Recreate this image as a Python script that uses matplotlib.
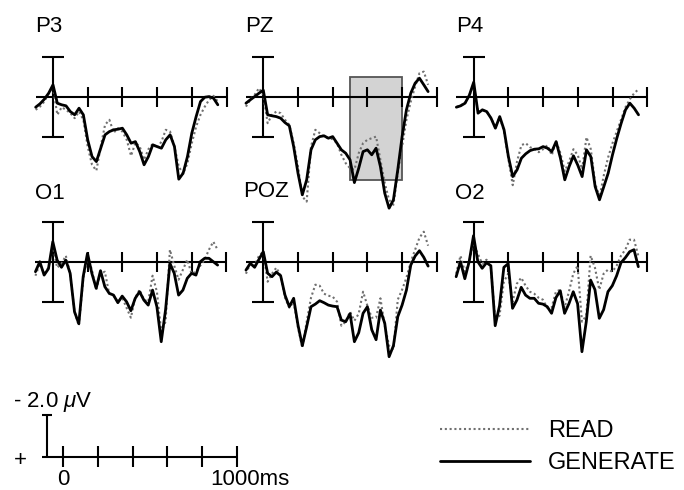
import matplotlib
matplotlib.use("Agg")
import matplotlib.pyplot as plt
from matplotlib.patches import Rectangle
from matplotlib.lines import Line2D

plt.rcParams['font.family'] = ['Liberation Sans', 'DejaVu Sans']
plt.rcParams['mathtext.fontset'] = 'custom'
plt.rcParams['mathtext.rm'] = 'Liberation Sans'
plt.rcParams['mathtext.it'] = 'Liberation Sans:italic'

# --- data: grand averages (uV, negative up), sampled every 25 ms ---
times = list(range(-100, 951, 25))

p3_read = [0.63, 0.47, 0.22, -0.2, -0.5, 0.88, 0.5, 0.63, 0.8, 1.05, 0.72, 1.13, 2.47,
           3.38, 3.67, 2.47, 1.38, 1.13, 1.77, 1.55, 1.72, 2.13, 2.93, 2.27, 2.47,
           3.13, 2.6, 2.33, 2.55, 2.22, 1.63, 1.72, 2.47, 3.47, 3.83, 3.3, 2.3,
           1.47, 0.88, 0.47, 0.13, -0.07, 0.22]
p3_generate = [0.5, 0.33, 0.1, -0.2, -0.62, 0.3, 0.38, 0.43, 0.72, 0.88, 0.55, 0.88, 2.13,
               2.97, 3.22, 2.55, 1.88, 1.72, 1.63, 1.6, 1.55, 1.88, 2.3, 2.22, 2.72,
               3.38, 2.97, 2.38, 2.47, 2.55, 2.13, 1.88, 2.47, 4.1, 3.8, 2.97, 1.8,
               0.97, 0.22, 0.0, -0.03, 0.05, 0.38]

pz_read = [0.47, 0.13, -0.12, -0.45, -0.12, 1.3, 0.88, 0.72, 0.8, 1.13, 1.38, 2.3, 3.47,
           4.97, 5.22, 2.47, 1.63, 1.8, 1.97, 2.05, 2.1, 2.3, 2.88, 3.3, 3.55,
           3.63, 2.8, 2.3, 2.13, 2.05, 1.97, 3.13, 4.3, 5.13, 5.38, 3.8, 2.47,
           1.13, 0.22, -0.53, -1.2, -1.28, -0.62]
pz_generate = [0.3, 0.13, -0.03, -0.2, -0.35, 0.88, 0.93, 0.97, 1.05, 1.27, 1.43, 2.47, 3.8,
               4.88, 4.13, 2.63, 2.13, 1.97, 1.93, 2.05, 1.97, 2.3, 2.63, 2.8, 3.13,
               4.27, 3.55, 2.72, 2.63, 2.88, 2.55, 3.47, 4.8, 5.55, 5.13, 3.63, 1.97,
               0.63, -0.2, -0.7, -0.95, -0.62, -0.28]

p4_read = [0.5, 0.4, 0.3, -0.1, -0.6, 0.75, 0.65, 0.72, 1.05, 1.5, 1.0, 1.7, 3.1,
           4.4, 3.2, 2.4, 2.3, 2.5, 2.6, 2.75, 2.6, 2.4, 2.9, 2.2, 2.8,
           3.7, 3.2, 2.6, 2.9, 3.6, 2.0, 2.6, 4.3, 5.0, 3.9, 3.0, 2.3,
           1.7, 1.1, 0.5, 0.1, -0.2, -0.4]
p4_generate = [0.5, 0.43, 0.3, -0.1, -0.75, 0.8, 0.63, 0.72, 1.05, 1.55, 0.97, 1.63, 2.97,
               3.97, 3.63, 3.05, 2.83, 2.67, 2.6, 2.58, 2.47, 2.55, 2.72, 2.22, 3.05,
               4.13, 3.47, 2.93, 3.4, 3.97, 2.63, 2.97, 4.47, 5.13, 4.47, 3.8, 2.88,
               2.05, 1.3, 0.63, 0.3, 0.55, 0.88]

o1_read = [0.7, 0.1, 0.6, 0.3, -0.8, 0.3, 0.1, -0.3, 0.6, 2.5, 3.2, 0.9, -0.3,
           0.4, 1.4, 0.6, 0.5, 1.6, 1.7, 2.0, 1.8, 2.3, 2.8, 1.8, 1.4,
           1.9, 2.0, 0.7, 1.5, 3.5, 3.0, -0.6, 0.2, 0.9, 0.4, -0.1, 0.6,
           0.5, 0.2, -0.1, -0.6, -1.0, -0.6]
o1_generate = [0.5, 0.0, 0.67, 0.35, -1.0, -0.08, 0.28, -0.08, 0.58, 2.5, 3.1, 0.75, -0.42,
               0.58, 1.33, 0.45, 1.25, 1.58, 1.67, 2.05, 1.72, 2.0, 2.45, 1.83, 1.5,
               1.92, 2.17, 1.42, 2.25, 4.0, 2.4, 0.08, 0.58, 1.67, 1.42, 0.83, 0.58,
               0.67, 0.0, -0.17, -0.17, 0.0, 0.17]

poz_read = [0.6, 0.1, 0.2, -0.3, -0.5, 1.0, 0.6, 0.3, 0.7, 1.8, 2.3, 2.0, 3.3,
            4.3, 3.0, 1.8, 1.15, 1.2, 1.6, 1.7, 1.75, 2.0, 3.2, 3.0, 2.5,
            2.95, 2.6, 1.5, 2.2, 2.8, 2.8, 1.83, 3.2, 4.2, 4.4, 1.9, 1.4,
            0.8, 0.0, -0.6, -1.2, -1.5, -0.8]
poz_generate = [0.42, 0.08, 0.28, -0.12, -0.5, 0.58, 0.75, 0.52, 0.7, 1.67, 2.25, 1.83, 3.17,
                4.2, 3.25, 2.25, 2.12, 1.95, 2.05, 2.17, 2.22, 2.25, 2.92, 3.0, 2.6,
                4.0, 3.55, 2.58, 2.25, 3.4, 3.9, 2.42, 3.08, 4.75, 4.2, 2.75, 2.17,
                1.42, 0.17, -0.28, -0.55, -0.22, 0.22]

o2_read = [0.6, -0.3, 0.5, 0.0, -0.9, -0.4, 0.1, -0.1, 0.3, 2.9, 2.7, 1.0, 0.6,
           2.0, 1.1, 0.8, 1.2, 1.5, 1.6, 1.8, 1.9, 2.3, 2.3, 1.5, 1.4,
           2.3, 1.5, 0.6, 0.2, 3.0, 2.7, -0.3, 0.3, 1.4, 0.6, 0.4, 0.5,
           0.2, -0.3, -0.6, -1.1, -1.1, -0.3]
o2_generate = [0.75, 0.0, 0.85, 0.0, -1.3, 0.0, 0.33, 0.05, 0.2, 3.2, 2.2, 0.28, 0.1,
               2.33, 1.92, 1.28, 1.67, 1.83, 1.83, 2.08, 2.12, 2.25, 2.58, 1.8, 1.45,
               2.58, 2.1, 1.5, 2.1, 4.5, 3.0, 0.92, 1.4, 2.83, 2.4, 1.5, 1.2,
               0.7, 0.05, -0.2, -0.5, -0.6, 0.25]

tick_ms = [200, 400, 600, 800, 1000]
scale_ticks = [0, 200, 400, 600, 800, 1000]
window_ms = (500, 800)
window_uv = (-1.0, 4.15)

# electrode, (x, y) pixel of t=0/0 uV, label position (ms, uV), read, generate
panels = [
    ("P3", (53.0, 97.2), (-104, -3.28), p3_read, p3_generate),
    ("PZ", (263.3, 97.2), (-104, -3.28), pz_read, pz_generate),
    ("P4", (473.7, 97.2), (-104, -3.28), p4_read, p4_generate),
    ("O1", (52.8, 261.7), (-104, -3.12), o1_read, o1_generate),
    ("POZ", (263.3, 261.7), (-117, -3.25), poz_read, poz_generate),
    ("O2", (473.5, 261.7), (-104, -3.13), o2_read, o2_generate),
]

W, H = 684, 490
PX_MS = 0.1735
PX_UV = 20.0
READ_STYLE = dict(color="#707070", lw=1.5, ls=(0, (1, 1.3)))
GEN_STYLE = dict(color="black", lw=2.0, solid_joinstyle="round", solid_capstyle="round")
AX_LW = 1.5

fig = plt.figure(figsize=(W / 100, H / 100), dpi=100)


def make_axes(origin, t_lim, v_lim):
    x0, y0 = origin
    left = x0 + t_lim[0] * PX_MS
    width = (t_lim[1] - t_lim[0]) * PX_MS
    top = y0 + v_lim[0] * PX_UV
    height = (v_lim[1] - v_lim[0]) * PX_UV
    ax = fig.add_axes([left / W, 1 - (top + height) / H, width / W, height / H])
    ax.set_xlim(*t_lim)
    ax.set_ylim(v_lim[1], v_lim[0])  # negative up
    ax.axis("off")
    ax.patch.set_alpha(0)
    return ax


for name, origin, lab, read, gen in panels:
    ax = make_axes(origin, (-150, 1050), (-4.5, 6.5))
    if name == "PZ":
        ax.add_patch(Rectangle((window_ms[0], window_uv[0]), window_ms[1] - window_ms[0],
                               window_uv[1] - window_uv[0], fc="#d3d3d3", ec="#555555",
                               lw=1.3, zorder=0))
    ax.hlines(0, -100, 1000, color="black", lw=AX_LW, zorder=1)
    ax.vlines(tick_ms, -0.5, 0.5, color="black", lw=AX_LW, zorder=1)
    ax.vlines(0, -2, 2, color="black", lw=AX_LW, zorder=1)
    ax.hlines([-2, 2], -63, 63, color="black", lw=AX_LW, zorder=1)
    ax.plot(times, read, zorder=2, **READ_STYLE)
    ax.plot(times, gen, zorder=3, **GEN_STYLE)
    ax.text(lab[0], lab[1], name, fontsize=16, ha="left", va="baseline", clip_on=False)

# --- calibration bar (same scale as the panels) ---
sax = make_axes((63.3, 456.7), (-300, 1100), (-3.0, 2.5))
sax.hlines(0, -125, 1000, color="black", lw=AX_LW)
sax.vlines(scale_ticks, -0.53, 0.53, color="black", lw=AX_LW)
sax.vlines(-95, -2.08, 0, color="black", lw=AX_LW)
sax.hlines(-2.08, -123, -67, color="black", lw=AX_LW)
sax.text(-288, -2.5, r"- 2.0 $\mu$V", fontsize=16, ha="left", va="baseline", clip_on=False)
sax.text(-250, 0.17, "+", fontsize=16, ha="center", va="center", clip_on=False)
sax.text(0, 1.42, "0", fontsize=16, ha="center", va="baseline", clip_on=False)
sax.text(845, 1.42, "1000ms", fontsize=16, ha="left", va="baseline", clip_on=False)

# --- legend ---
handles = [Line2D([], [], **READ_STYLE), Line2D([], [], **GEN_STYLE)]
fig.legend(handles, ["READ", "GENERATE"], loc="upper left",
           bbox_to_anchor=(440 / W, 1 - 420 / H), frameon=False, fontsize=17,
           handlelength=3.8, handletextpad=0.76, labelspacing=0.42,
           borderpad=0, borderaxespad=0)

fig.savefig("out.png", dpi=100)
